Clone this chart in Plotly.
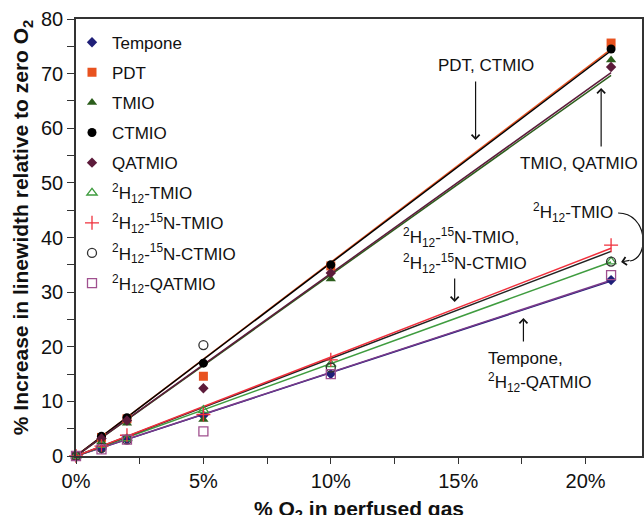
import plotly.graph_objects as go
import numpy as np

# ---- data ----
o2_pct = [0, 1, 2, 5, 10, 21]

series_names = [
    "Tempone", "PDT", "TMIO", "CTMIO", "QATMIO",
    "<sup>2</sup>H<sub>12</sub>-TMIO",
    "<sup>2</sup>H<sub>12</sub>-<sup>15</sup>N-TMIO",
    "<sup>2</sup>H<sub>12</sub>-<sup>15</sup>N-CTMIO",
    "<sup>2</sup>H<sub>12</sub>-QATMIO",
]
tempone = [0, 1.3, 3.0, 7.4, 15.0, 32.2]
pdt = [0, 3.4, 6.8, 14.6, 34.8, 75.6]
tmio = [0, 2.6, 6.0, 6.7, 32.4, 72.5]
ctmio = [0, 3.6, 7.0, 17.0, 35.0, 74.5]
qatmio = [0, 3.2, 6.5, 12.4, 33.5, 71.2]
h12_tmio = [0, 2.0, 3.2, 8.4, 16.8, 35.6]
h12_n15_tmio = [0, 1.8, 3.8, 7.6, 17.6, 38.6]
h12_n15_ctmio = [0, 1.5, 3.0, 20.3, 16.2, 35.6]
h12_qatmio = [0, 1.2, 3.0, 4.5, 15.0, 33.1]

values = [tempone, pdt, tmio, ctmio, qatmio, h12_tmio, h12_n15_tmio, h12_n15_ctmio, h12_qatmio]

# ---- styles ----
colors = ["#1f1f78", "#e8521f", "#2c5e1c", "#000000", "#5c1b3a",
          "#3f9c3f", "#f0303c", "#333333", "#a0508f"]
line_colors = ["#1f1f78", "#e8521f", "#2c5e1c", "#000000", "#5c1b3a",
               "#3f9c3f", "#f0303c", "#222222", "#7a3a8a"]
symbols = ["diamond", "square", "triangle-up", "circle", "diamond",
           "triangle-up-open", "cross-thin-open", "circle-open", "square-open"]
sizes = [8, 9, 9, 9, 8, 9, 10, 9, 9]
line_order = [1, 3, 2, 4, 0, 8, 5, 7, 6]

FONT = "Arial, Liberation Sans, sans-serif"

fig = go.Figure()

# least-squares fits through origin
x_arr = np.array(o2_pct, dtype=float)
for i in line_order:
    y_arr = np.array(values[i], dtype=float)
    slope = (x_arr * y_arr).sum() / (x_arr * x_arr).sum()
    xs = [0, max(o2_pct)]
    fig.add_trace(go.Scatter(
        x=xs, y=[slope * v for v in xs], mode="lines",
        line=dict(color=line_colors[i], width=1.5),
        showlegend=False, hoverinfo="skip", cliponaxis=False))

for i, name in enumerate(series_names):
    open_sym = "open" in symbols[i]
    fig.add_trace(go.Scatter(
        x=o2_pct, y=values[i], mode="markers", name=name,
        legendgroup=f"g{i}",
        marker=dict(symbol=symbols[i], size=sizes[i], color=colors[i],
                    line=dict(color=colors[i], width=1.3 if open_sym else 0)),
        cliponaxis=False))

W, H = 644, 515
L, T, B = 76, 19, 59
xpx = 25.57
xmax = (W - L) / xpx

fig.update_layout(
    width=W, height=H,
    margin=dict(l=L, r=0, t=T, b=B),
    paper_bgcolor="white", plot_bgcolor="white",
    font=dict(family=FONT, size=17, color="#111"),
    showlegend=True,
    legend=dict(x=0.0, y=0.987, xanchor="left", yanchor="top",
                bgcolor="rgba(0,0,0,0)", font=dict(size=17, family=FONT),
                tracegroupgap=5, itemwidth=30, indentation=-4),
    xaxis=dict(range=[0, xmax], tickvals=[0, 5, 10, 15, 20],
               ticktext=["0%", "5%", "10%", "15%", "20%"],
               ticks="outside", ticklen=6, tickwidth=1.2, tickcolor="#333",
               minor=dict(dtick=2.5, tick0=0, ticks="outside", ticklen=6, tickwidth=1.2, tickcolor="#333"),
               showline=True, linecolor="#333", linewidth=1.6, mirror=True,
               showgrid=False, zeroline=False,
               tickfont=dict(size=20, family=FONT)),
    yaxis=dict(range=[0, 80], dtick=10, tick0=0,
               ticks="outside", ticklen=7, tickwidth=1.2, tickcolor="#333",
               minor=dict(dtick=5, tick0=0, ticks="outside", ticklen=7, tickwidth=1.2, tickcolor="#333"),
               showline=True, linecolor="#333", linewidth=1.6, mirror=True,
               showgrid=False, zeroline=False,
               tickfont=dict(size=20, family=FONT)),
)

plot_h = H - T - B
def px_to_x(px):
    return (px - L) / xpx
def py_to_y(py):
    return (H - B - py) / plot_h * 80

ann_font = dict(size=17, family=FONT, color="#111")
annotations = []
# axis titles
annotations.append(dict(text="<b>% O<sub>2</sub> in perfused gas</b>", xref="paper", yref="paper",
                        x=0.5, y=(H - B - 510) / plot_h, showarrow=False,
                        font=dict(size=21, family=FONT, color="#111"), xanchor="center", yanchor="middle"))
annotations.append(dict(text="<b>% Increase in linewidth relative to zero O<sub>2</sub></b>", xref="paper", yref="paper",
                        x=(22 - L) / (W - L), y=(H - B - 228) / plot_h, textangle=-90, showarrow=False,
                        font=dict(size=21, family=FONT, color="#111"), xanchor="center", yanchor="middle"))

# text labels
labels = [
    ("PDT, CTMIO", 487, 65, "center"),
    ("TMIO, QATMIO", 581, 163, "center"),
    ("<sup>2</sup>H<sub>12</sub>-TMIO", 575, 212, "center"),
    ("<sup>2</sup>H<sub>12</sub>-<sup>15</sup>N-TMIO,", 402, 237, "left"),
    ("<sup>2</sup>H<sub>12</sub>-<sup>15</sup>N-CTMIO", 402, 263, "left"),
    ("Tempone,", 487, 358, "left"),
    ("<sup>2</sup>H<sub>12</sub>-QATMIO", 487, 382, "left"),
]
for txt, px, py, anc in labels:
    annotations.append(dict(text=txt, x=px_to_x(px), y=py_to_y(py), xref="x", yref="y",
                            showarrow=False, xanchor=anc, yanchor="middle", font=ann_font))

# straight arrows: (x, tail_y, head_y)
arrows = [(477, 80, 140), (603, 148, 88), (456, 277, 302), (525, 343, 318)]
for px, ty, hy in arrows:
    annotations.append(dict(text="", x=px_to_x(px), y=py_to_y(hy), ax=px_to_x(px), ay=py_to_y(ty),
                            xref="x", yref="y", axref="x", ayref="y", showarrow=True,
                            arrowhead=4, arrowsize=1.3, arrowwidth=1.2, arrowcolor="#111"))
# curved arrow head
annotations.append(dict(text="", x=px_to_x(623), y=py_to_y(262), ax=10, ay=-2,
                        xref="x", yref="y", showarrow=True,
                        arrowhead=4, arrowsize=1.3, arrowwidth=1.2, arrowcolor="#111"))

fig.update_layout(annotations=annotations)

# curved connector for 2H12-TMIO label
p0 = (px_to_x(620), py_to_y(213))
c1 = (px_to_x(650), py_to_y(213))
c2 = (px_to_x(652), py_to_y(258))
p1 = (px_to_x(632), py_to_y(261))
path = f"M {p0[0]},{p0[1]} C {c1[0]},{c1[1]} {c2[0]},{c2[1]} {p1[0]},{p1[1]}"
fig.add_shape(type="path", path=path, xref="x", yref="y",
              line=dict(color="#111", width=1.2))

fig.write_html("out.html", config={"displayModeBar": False},
               post_script="document.body.style.margin='0';document.body.style.overflow='hidden';")
